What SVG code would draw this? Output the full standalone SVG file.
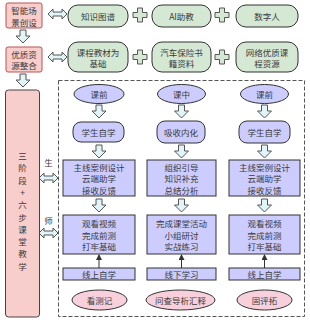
<svg xmlns="http://www.w3.org/2000/svg" width="310" height="320" viewBox="0 0 310 320">
<style>
text{font-family:"Noto Sans CJK SC","Liberation Sans",sans-serif;font-size:8.5px;fill:#3a3a3a;text-anchor:middle;dominant-baseline:central}
.pk{fill:#f8cecc;stroke:#b85450;stroke-width:1}
.gr{fill:#d5e8d4;stroke:#333;stroke-width:1}
.bl{fill:#ccccff;stroke:#333;stroke-width:1}
.ep{fill:#f8d0dc;stroke:#333;stroke-width:1}
.ar{fill:#e1f5f8;stroke:#555;stroke-width:1}
.pl{fill:#d5e8d4;stroke:#555;stroke-width:1}
</style>
<defs>
<path id="dn" d="M-3,0 h6 v6 h4 l-7,7 l-7,-7 h4 z"/>
<path id="dbl" d="M0,0 l5,-5 v3 h9 v-3 l5,5 l-5,5 v-3 h-9 v3 z"/>
<path id="plus" d="M-2.5,-7 h5 v4.5 h4.5 v5 h-4.5 v4.5 h-5 v-4.5 h-4.5 v-5 h4.5 z"/>
<marker id="ah" markerWidth="6" markerHeight="6" refX="5" refY="3" orient="auto" markerUnits="userSpaceOnUse"><path d="M0,0 L6,3 L0,6 z" fill="#333"/></marker>
</defs>

<g id="connectors">
<rect x="58.5" y="80.5" width="246" height="236" fill="none" stroke="#555" stroke-dasharray="4,2"/>
<use href="#dbl" x="48" y="14" class="ar"/>
<use href="#dbl" x="48" y="57" class="ar"/>
<use href="#plus" x="140" y="15" class="pl"/>
<use href="#plus" x="222" y="15" class="pl"/>
<use href="#plus" x="140" y="57" class="pl"/>
<use href="#plus" x="222" y="57" class="pl"/>
<use href="#dn" x="23" y="30" class="ar"/>
<use href="#dn" x="23" y="74" class="ar"/>
<use href="#dbl" x="39" y="178" class="ar"/>
<use href="#dbl" x="39" y="233" class="ar"/>
<use href="#dn" x="99" y="105" class="ar"/>
<use href="#dn" x="99" y="145" class="ar"/>
<use href="#dn" x="99" y="199" class="ar"/>
<use href="#dn" x="181.5" y="105" class="ar"/>
<use href="#dn" x="181.5" y="145" class="ar"/>
<use href="#dn" x="181.5" y="199" class="ar"/>
<use href="#dn" x="264.5" y="105" class="ar"/>
<use href="#dn" x="264.5" y="145" class="ar"/>
<use href="#dn" x="264.5" y="199" class="ar"/>
<line x1="99" y1="268" x2="99" y2="255" stroke="#333" marker-end="url(#ah)"/>
<line x1="181.5" y1="268" x2="181.5" y2="255" stroke="#333" marker-end="url(#ah)"/>
<line x1="264.5" y1="268" x2="264.5" y2="255" stroke="#333" marker-end="url(#ah)"/>
</g>

<g id="n-zhineng"><rect class="pk" x="6" y="3" width="36" height="25" rx="2"/><text x="24" y="10">智能场</text><text x="24" y="21.5">景创设</text></g>
<g id="n-youzhi"><rect class="pk" x="6" y="47" width="36" height="25" rx="2"/><text x="24" y="53.8">优质资</text><text x="24" y="65.3">源整合</text></g>
<g id="n-zhishi"><rect class="gr" x="68" y="5" width="60" height="22" rx="10"/><text x="98" y="16">知识图谱</text></g>
<g id="n-ai"><rect class="gr" x="152" y="5" width="59" height="22" rx="10"/><text x="181.5" y="16">AI助教</text></g>
<g id="n-shuzi"><rect class="gr" x="236" y="5" width="62" height="22" rx="10"/><text x="267" y="16">数字人</text></g>
<g id="n-kecheng"><rect class="gr" x="68" y="42" width="60" height="30" rx="10"/><text x="98" y="51.5">课程教材为</text><text x="98" y="63">基础</text></g>
<g id="n-qiche"><rect class="gr" x="152" y="42" width="59" height="30" rx="10"/><text x="181.5" y="51.5">汽车保险书</text><text x="181.5" y="63">籍资料</text></g>
<g id="n-wangluo"><rect class="gr" x="236" y="42" width="62" height="30" rx="10"/><text x="267" y="51.5">网络优质课</text><text x="267" y="63">程资源</text></g>

<g id="n-sanjieduan"><rect x="5.5" y="90" width="34" height="227" rx="3" fill="#f8cecc" stroke="#444"/>
<text x="22.5" y="155">三</text><text x="22.5" y="167.3">阶</text><text x="22.5" y="179.6">段</text><text x="22.5" y="191.9">+</text><text x="22.5" y="204.2">六</text><text x="22.5" y="216.5">步</text><text x="22.5" y="228.8">课</text><text x="22.5" y="241.1">堂</text><text x="22.5" y="253.4">教</text><text x="22.5" y="265.7">学</text></g>
<g id="l-sheng"><text x="48.5" y="162">生</text></g>
<g id="l-shi"><text x="48.5" y="220">师</text></g>

<g id="c1-kq"><ellipse class="bl" cx="99" cy="94" rx="25" ry="9.5"/><text x="99" y="94">课前</text></g>
<g id="c1-zx"><rect class="bl" x="73" y="122" width="51" height="20" rx="8"/><text x="98.5" y="132">学生自学</text></g>
<g id="c1-b1"><rect class="bl" x="63" y="160" width="72" height="36"/><text x="99" y="166.5">主线案例设计</text><text x="99" y="178">云端助学</text><text x="99" y="189.5">接收反馈</text></g>
<g id="c1-b2"><rect class="bl" x="63" y="215" width="72" height="39"/><text x="99" y="223">观看视频</text><text x="99" y="234.5">完成前测</text><text x="99" y="246">打牢基础</text></g>
<g id="c1-b3"><rect class="bl" x="63" y="268" width="72" height="12"/><text x="99" y="274">线上自学</text></g>
<g id="c1-e"><ellipse class="ep" cx="99.5" cy="300" rx="27.5" ry="10"/><text x="99.5" y="300">看测记</text></g>

<g id="c2-kz"><ellipse class="bl" cx="181.5" cy="94" rx="24" ry="9.5"/><text x="181.5" y="94">课中</text></g>
<g id="c2-xs"><rect class="bl" x="157" y="121" width="48" height="22" rx="8"/><text x="181" y="132">吸收内化</text></g>
<g id="c2-b1"><rect class="bl" x="147" y="160" width="69" height="36"/><text x="181.5" y="166.5">组织引导</text><text x="181.5" y="178">知识补充</text><text x="181.5" y="189.5">总结分析</text></g>
<g id="c2-b2"><rect class="bl" x="147" y="215" width="69" height="39"/><text x="181.5" y="223">完成课堂活动</text><text x="181.5" y="234.5">小组研讨</text><text x="181.5" y="246">实战练习</text></g>
<g id="c2-b3"><rect class="bl" x="147" y="268" width="69" height="12"/><text x="181.5" y="274">线下学习</text></g>
<g id="c2-e"><ellipse class="ep" cx="180.5" cy="300" rx="34.5" ry="10"/><text x="180.5" y="300">问查导析汇释</text></g>

<g id="c3-kq"><ellipse class="bl" cx="264.5" cy="94" rx="24" ry="9.5"/><text x="264.5" y="94">课前</text></g>
<g id="c3-zx"><rect class="bl" x="239" y="121" width="51" height="22" rx="8"/><text x="264.5" y="132">学生自学</text></g>
<g id="c3-b1"><rect class="bl" x="229" y="160" width="71" height="36"/><text x="264.5" y="166.5">主线案例设计</text><text x="264.5" y="178">云端助学</text><text x="264.5" y="189.5">接收反馈</text></g>
<g id="c3-b2"><rect class="bl" x="229" y="215" width="71" height="39"/><text x="264.5" y="223">观看视频</text><text x="264.5" y="234.5">完成前测</text><text x="264.5" y="246">打牢基础</text></g>
<g id="c3-b3"><rect class="bl" x="229" y="268" width="71" height="12"/><text x="264.5" y="274">线上自学</text></g>
<g id="c3-e"><ellipse class="ep" cx="264.5" cy="300" rx="27.5" ry="10"/><text x="264.5" y="300">固评拓</text></g>
</svg>
